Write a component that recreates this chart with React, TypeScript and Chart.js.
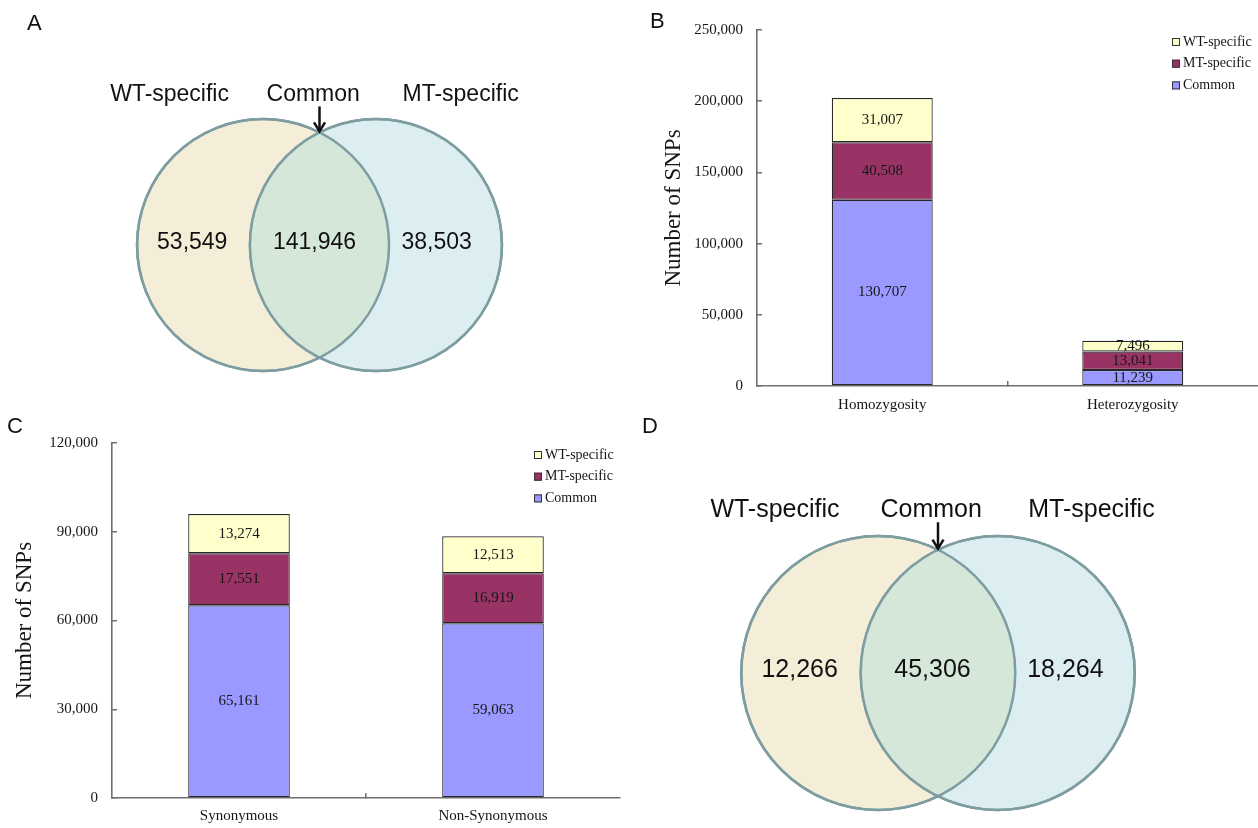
import React, { useEffect, useRef } from 'react';
import { Chart, registerables } from 'chart.js';

Chart.register(...registerables);

const SERIF = '"Liberation Serif", "Times New Roman", serif';
const SANS = '"Liberation Sans", Arial, sans-serif';

// ---------- Data ----------
const seriesNames = ['Common', 'MT-specific', 'WT-specific'];
const seriesColors = ['#9999FF', '#993366', '#FFFFCC'];

// Panel B
const bCategories = ['Homozygosity', 'Heterozygosity'];
const bCommon = [130707, 11239];
const bMT = [40508, 13041];
const bWT = [31007, 7496];
const bYTicks = [0, 50000, 100000, 150000, 200000, 250000];

// Panel C
const cCategories = ['Synonymous', 'Non-Synonymous'];
const cCommon = [65161, 59063];
const cMT = [17551, 16919];
const cWT = [13274, 12513];
const cYTicks = [0, 30000, 60000, 90000, 120000];

// Venn panels A and D
const vennSetNames = ['WT-specific', 'Common', 'MT-specific'];
const vennACounts = [53549, 141946, 38503];
const vennDCounts = [12266, 45306, 18264];

// ---------- Helpers ----------
const fmt = (v: number) => String(Math.round(v)).replace(/\B(?=(\d{3})+(?!\d))/g, ',');
const AXIS = '#707070';
const TEXT = '#161616';

const letterPlugin = {
  id: 'panelLetter',
  afterDraw(chart: any, _a: any, opts: any) {
    const ctx = chart.ctx;
    ctx.save();
    ctx.font = `22px ${SANS}`;
    ctx.fillStyle = '#111';
    ctx.textAlign = 'left';
    ctx.textBaseline = 'alphabetic';
    ctx.fillText(opts.text, opts.x, opts.y);
    ctx.restore();
  },
};

const barLabelPlugin = {
  id: 'barLabels',
  afterDatasetsDraw(chart: any) {
    const ctx = chart.ctx;
    ctx.save();
    ctx.font = `15px ${SERIF}`;
    ctx.fillStyle = TEXT;
    ctx.textAlign = 'center';
    ctx.textBaseline = 'middle';
    chart.data.datasets.forEach((ds: any, i: number) => {
      const meta = chart.getDatasetMeta(i);
      meta.data.forEach((el: any, j: number) => {
        const { x, y, base } = el.getProps(['x', 'y', 'base'], true);
        ctx.fillText(fmt(ds.data[j]), x, (y + base) / 2);
      });
    });
    ctx.restore();
  },
};

const cornerLegendPlugin = {
  id: 'cornerLegend',
  afterDraw(chart: any, _a: any, opts: any) {
    const { ctx, chartArea } = chart;
    const x0 = chartArea.right - opts.offsetRight;
    let y = chartArea.top + opts.offsetTop;
    const order = [2, 1, 0];
    ctx.save();
    ctx.font = `14px ${SERIF}`;
    ctx.textBaseline = 'middle';
    ctx.textAlign = 'left';
    for (const i of order) {
      const ds = chart.data.datasets[i];
      ctx.fillStyle = ds.backgroundColor;
      ctx.fillRect(x0, y - 4, 8, 8);
      ctx.strokeStyle = '#333';
      ctx.lineWidth = 1;
      ctx.strokeRect(x0 + 0.5, y - 3.5, 7, 7);
      ctx.fillStyle = TEXT;
      ctx.fillText(ds.label, x0 + 11, y);
      y += opts.spacing;
    }
    ctx.restore();
  },
};

const vennPlugin = {
  id: 'venn',
  afterDatasetsDraw(chart: any, _a: any, opts: any) {
    const { ctx, scales } = chart;
    const xs = scales.x;
    const ys = scales.y;
    const meta = chart.getDatasetMeta(0);
    const [p1, p2] = meta.data;
    const r1 = p1.options.radius;
    const r2 = p2.options.radius;
    // overlap region
    ctx.save();
    ctx.beginPath();
    ctx.arc(p1.x, p1.y, r1, 0, Math.PI * 2);
    ctx.clip();
    ctx.beginPath();
    ctx.arc(p2.x, p2.y, r2, 0, Math.PI * 2);
    ctx.fillStyle = opts.overlapColor;
    ctx.fill();
    ctx.restore();
    // outlines
    ctx.save();
    ctx.lineWidth = opts.strokeWidth;
    ctx.strokeStyle = opts.strokeColor;
    for (const p of [p1, p2]) {
      ctx.beginPath();
      ctx.arc(p.x, p.y, p.options.radius, 0, Math.PI * 2);
      ctx.stroke();
    }
    ctx.restore();
    // texts
    ctx.save();
    ctx.fillStyle = '#111';
    ctx.textAlign = 'center';
    ctx.textBaseline = 'alphabetic';
    ctx.font = `${opts.titleSize}px ${SANS}`;
    opts.names.forEach((n: string, i: number) => {
      ctx.fillText(n, xs.getPixelForValue(opts.titleX[i]), ys.getPixelForValue(opts.titleY));
    });
    ctx.font = `${opts.countSize}px ${SANS}`;
    opts.counts.forEach((c: number, i: number) => {
      ctx.fillText(fmt(c), xs.getPixelForValue(opts.countX[i]), ys.getPixelForValue(opts.countY));
    });
    // arrow to the top intersection point
    const pts = chart.data.datasets[0].data;
    const sep = Math.abs(pts[1].x - pts[0].x) / 2;
    const ax = xs.getPixelForValue(0);
    const ay0 = ys.getPixelForValue(opts.arrowTop);
    const ay1 = ys.getPixelForValue(Math.sqrt(1 - sep * sep));
    ctx.strokeStyle = '#111';
    ctx.lineWidth = 2.5;
    ctx.lineCap = 'butt';
    ctx.beginPath();
    ctx.moveTo(ax, ay0);
    ctx.lineTo(ax, ay1 - 1);
    ctx.stroke();
    ctx.lineJoin = 'miter';
    ctx.beginPath();
    ctx.moveTo(ax - 5.5, ay1 - 10);
    ctx.lineTo(ax, ay1 - 1);
    ctx.lineTo(ax + 5.5, ay1 - 10);
    ctx.stroke();
    ctx.restore();
  },
};

function vennConfig(counts: number[], L: any) {
  const radius = (c: any) => {
    const s = c.chart.scales.x;
    return Math.abs(s.getPixelForValue(1) - s.getPixelForValue(0));
  };
  return {
    type: 'scatter',
    data: {
      datasets: [
        {
          data: [
            { x: -L.sep, y: 0 },
            { x: L.sep, y: 0 },
          ],
          pointRadius: radius,
          pointHoverRadius: radius,
          backgroundColor: ['#F4EED8', '#DDEEF2'],
          borderColor: '#7d9da1',
          borderWidth: 2.5,
          clip: false,
        },
      ],
    },
    options: {
      responsive: false,
      maintainAspectRatio: false,
      animation: false,
      devicePixelRatio: 1,
      events: [],
      layout: { padding: 0 },
      scales: {
        x: { type: 'linear', display: false, min: -L.cx / L.r, max: (L.width - L.cx) / L.r },
        y: { type: 'linear', display: false, min: -(L.height - L.cy) / L.r, max: L.cy / L.r },
      },
      plugins: {
        legend: { display: false },
        tooltip: { enabled: false },
        panelLetter: L.letter,
        venn: {
          overlapColor: '#D5E7D9',
          strokeColor: '#7d9da1',
          strokeWidth: 2.5,
          names: vennSetNames,
          counts,
          titleSize: L.titleSize,
          countSize: L.countSize,
          titleX: [-1.19, -0.05, 1.12],
          titleY: 1.14,
          countX: [-1.01, -0.04, 0.93],
          countY: -0.028,
          arrowTop: 1.1,
        },
      },
    },
    plugins: [vennPlugin, letterPlugin],
  };
}

function barConfig(categories: string[], common: number[], mt: number[], wt: number[], yTicks: number[], L: any) {
  const values = [common, mt, wt];
  return {
    type: 'bar',
    data: {
      labels: categories,
      datasets: values.map((d, i) => ({
        label: seriesNames[i],
        data: d,
        backgroundColor: seriesColors[i],
        borderColor: '#262626',
        borderWidth: 1.2,
        borderSkipped: false,
        categoryPercentage: 1,
        barPercentage: L.barPct,
      })),
    },
    options: {
      responsive: false,
      maintainAspectRatio: false,
      animation: false,
      devicePixelRatio: 1,
      events: [],
      layout: { padding: { top: L.padTop, right: L.padRight, left: 0, bottom: 0 } },
      scales: {
        x: {
          stacked: true,
          grid: {
            display: true,
            drawOnChartArea: false,
            drawTicks: true,
            tickLength: -5,
            lineWidth: 1.5,
            offset: true,
            color: (c: any) => (c.index === 1 ? AXIS : 'rgba(0,0,0,0)'),
          },
          border: { display: true, color: AXIS, width: 1.6 },
          ticks: { color: TEXT, font: { family: SERIF, size: 15 }, padding: L.xPad, maxRotation: 0, autoSkip: false },
          afterFit: (s: any) => {
            s.height = L.xHeight;
          },
        },
        y: {
          stacked: true,
          min: 0,
          max: yTicks[yTicks.length - 1],
          afterBuildTicks: (s: any) => {
            s.ticks = yTicks.map((v) => ({ value: v }));
          },
          grid: { display: true, drawOnChartArea: false, drawTicks: true, tickLength: -5, color: AXIS, lineWidth: 1.5 },
          border: { display: true, color: AXIS, width: 1.6 },
          ticks: { color: TEXT, font: { family: SERIF, size: 15 }, padding: 19, callback: (v: any) => fmt(Number(v)) },
          title: {
            display: true,
            text: 'Number of SNPs',
            color: TEXT,
            font: { family: SERIF, size: 23 },
            padding: { top: L.titlePad, bottom: 0 },
          },
          afterFit: (s: any) => {
            s.width = L.yWidth;
          },
        },
      },
      plugins: {
        legend: { display: false },
        tooltip: { enabled: false },
        panelLetter: L.letter,
        cornerLegend: { offsetRight: 86, offsetTop: 12, spacing: 21.7 },
      },
    },
    plugins: [barLabelPlugin, cornerLegendPlugin, letterPlugin],
  };
}

function ChartCanvas({ make, left, top, width, height }: any) {
  const ref = useRef<HTMLCanvasElement>(null);
  useEffect(() => {
    const chart = new Chart(ref.current as HTMLCanvasElement, make() as any);
    return () => chart.destroy();
  }, []);
  return (
    <canvas
      ref={ref}
      width={width}
      height={height}
      style={{ position: 'absolute', left, top, width, height }}
    />
  );
}

export default function App() {
  return (
    <div
      style={{
        position: 'absolute',
        left: 0,
        top: 0,
        width: 1258,
        height: 828,
        background: '#ffffff',
        overflow: 'hidden',
      }}
    >
      <ChartCanvas
        left={0}
        top={0}
        width={630}
        height={410}
        make={() =>
          vennConfig(vennACounts, {
            width: 630,
            height: 410,
            cx: 319.5,
            cy: 245,
            r: 126,
            sep: 0.448,
            titleSize: 23,
            countSize: 23,
            letter: { text: 'A', x: 27, y: 30 },
          })
        }
      />
      <ChartCanvas
        left={630}
        top={0}
        width={628}
        height={420}
        make={() =>
          barConfig(bCategories, bCommon, bMT, bWT, bYTicks, {
            padTop: 30,
            padRight: 0,
            yWidth: 127,
            xHeight: 34,
            xPad: 15,
            titlePad: 30,
            barPct: 0.403,
            letter: { text: 'B', x: 20, y: 28 },
          })
        }
      />
      <ChartCanvas
        left={0}
        top={410}
        width={630}
        height={418}
        make={() =>
          barConfig(cCategories, cCommon, cMT, cWT, cYTicks, {
            padTop: 33,
            padRight: 10,
            yWidth: 112,
            xHeight: 30,
            xPad: 14,
            titlePad: 11,
            barPct: 0.4,
            letter: { text: 'C', x: 7, y: 23 },
          })
        }
      />
      <ChartCanvas
        left={630}
        top={410}
        width={628}
        height={418}
        make={() =>
          vennConfig(vennDCounts, {
            width: 628,
            height: 418,
            cx: 308,
            cy: 263,
            r: 137,
            sep: 0.436,
            titleSize: 25,
            countSize: 25,
            letter: { text: 'D', x: 12, y: 23 },
          })
        }
      />
    </div>
  );
}
